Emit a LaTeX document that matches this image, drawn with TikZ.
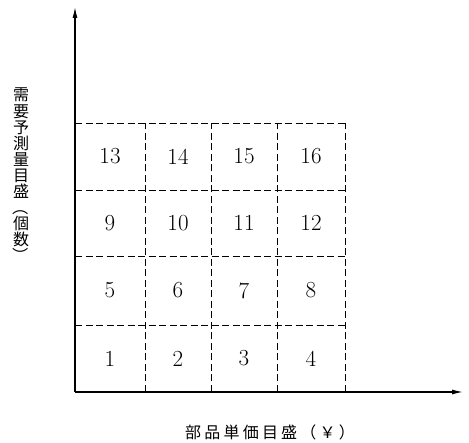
\documentclass[tikz,border=0pt]{standalone}
\usepackage{fontspec}
\usepackage{graphicx}
\newfontfamily\cjk{Noto Sans CJK JP}
\newfontfamily\cjkwide[LetterSpace=20]{Noto Sans CJK JP}
\usetikzlibrary{arrows.meta}
\tikzset{
  axis/.style={line width=1.2pt,-{Latex[length=11pt,width=5pt]}},
  gridline/.style={line width=0.9pt,dash pattern=on 7pt off 3.5pt},
  cellnum/.style={font=\fontsize{23}{26}\selectfont},
  axislabel/.style={font=\cjk\fontsize{16}{16.1}\selectfont},
  xaxislabel/.style={font=\cjkwide\fontsize{16}{16.1}\selectfont}
}
\newcommand\vparen[1]{\rotatebox[origin=c]{-90}{#1}}
\begin{document}
\begin{tikzpicture}[x=1pt,y=1pt]
\useasboundingbox (0,0) rectangle (469,443);
% origin and axis ends
\coordinate (o) at (75,51);
\coordinate (ytop) at (75,436);
\coordinate (xend) at (463,51);
% dashed horizontal grid lines
\foreach \i/\yy in {1/118,2/187,3/253,4/320}{
  \coordinate (hl\i) at (75,\yy);
  \coordinate (hr\i) at (345,\yy);
  \draw[gridline] (hl\i) -- (hr\i);
}
% dashed vertical grid lines
\foreach \i/\xx in {1/145,2/211,3/277,4/345}{
  \coordinate (vb\i) at (\xx,51);
  \coordinate (vt\i) at (\xx,320);
  \draw[gridline] (vb\i) -- (vt\i);
}
% axes
\draw[axis] (o) -- (ytop);
\draw[axis] (o) -- (xend);
% cell numbers
\foreach \r/\cy in {0/84.5,1/152.5,2/220,3/286.5}{
  \foreach \c/\cx in {0/110,1/178,2/244,3/311}{
    \pgfmathtruncatemacro\n{\r*4+\c+1}
    \node[cellnum] (c\n) at (\cx,\cy) {\n};
  }
}
% axis labels
\node[axislabel,align=center,inner sep=0pt] (ylab) at (21,267)
  {需\\要\\予\\測\\量\\目\\盛\\\vparen{（}\\個\\数\\\vparen{）}};
\node[xaxislabel,inner sep=0pt] (xlab) at (270,11)
  {部品単価目盛（￥）};
\end{tikzpicture}
\end{document}
